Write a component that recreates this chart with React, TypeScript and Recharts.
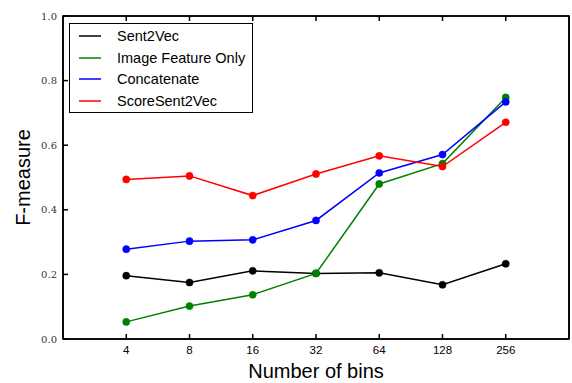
import { LineChart, Line, XAxis, YAxis, Legend, ReferenceArea } from "recharts";

const bins = ["4", "8", "16", "32", "64", "128", "256"];
const sent2vec = [0.196, 0.175, 0.211, 0.203, 0.205, 0.168, 0.233];
const imageOnly = [0.053, 0.102, 0.137, 0.203, 0.48, 0.543, 0.748];
const concatenate = [0.278, 0.303, 0.307, 0.367, 0.514, 0.571, 0.734];
const scoreSent2Vec = [0.494, 0.505, 0.444, 0.511, 0.567, 0.534, 0.671];
const yTicks = [0, 0.2, 0.4, 0.6, 0.8, 1.0];

const series = [
	{ key: "sent2vec", name: "Sent2Vec", color: "#000000", values: sent2vec },
	{ key: "image", name: "Image Feature Only", color: "#008000", values: imageOnly },
	{ key: "concat", name: "Concatenate", color: "#0000ff", values: concatenate },
	{ key: "score", name: "ScoreSent2Vec", color: "#ff0000", values: scoreSent2Vec },
];

const data = bins.map((b, i) => {
	const row: Record<string, number | string> = { i, bin: b };
	series.forEach((s) => {
		row[s.key] = s.values[i];
	});
	return row;
});

const xTicks = bins.map((_, i) => i);
const sans = "'Liberation Sans', Arial, sans-serif";
const TICK = 5;

// inward tick marks, drawn by hand
const BottomTick = (p: any) => (
	<g>
		<rect x={p.x - 0.75} y={p.y - TICK} width={1.5} height={TICK} fill="#000" />
		<text x={p.x} y={p.y + 15} textAnchor="middle" fill="#000" fontSize={11.5} fontFamily={sans}>
			{bins[p.payload.value]}
		</text>
	</g>
);
const TopTick = (p: any) => <rect x={p.x - 0.75} y={p.y} width={1.5} height={TICK} fill="#000" />;
const LeftTick = (p: any) => (
	<g>
		<rect x={p.x} y={p.y - 0.75} width={TICK} height={1.5} fill="#000" />
		<text x={p.x - 6} y={p.y + 3.5} textAnchor="end" fill="#333" fontSize={10} fontFamily="'DejaVu Serif', serif">
			{Number(p.payload.value).toFixed(1)}
		</text>
	</g>
);
const RightTick = (p: any) => <rect x={p.x - TICK} y={p.y - 0.75} width={TICK} height={1.5} fill="#000" />;

const LegendBox = () => (
	<div
		style={{
			border: "1.5px solid #000",
			background: "#fff",
			width: 182,
			height: 87,
			boxSizing: "content-box",
			fontFamily: sans,
			fontSize: 14.5,
			paddingTop: 1,
		}}
	>
		{series.map((s) => (
			<div key={s.key} style={{ display: "flex", alignItems: "center", height: 21.7 }}>
				<svg width={22} height={4} style={{ marginLeft: 9, marginRight: 16 }}>
					<line x1={0} x2={22} y1={2} y2={2} stroke={s.color} strokeWidth={1.5} />
				</svg>
				<span style={{ color: "#000" }}>{s.name}</span>
			</div>
		))}
	</div>
);

const axisLine = { stroke: "#000", strokeWidth: 1.6 };

export default function App() {
	return (
		<div style={{ position: "absolute", left: 0, top: 0, background: "#fff" }}>
			<LineChart width={572} height={383} data={data} margin={{ top: 15, right: 2, left: 3, bottom: 0 }}>
				<XAxis
					dataKey="i"
					type="number"
					domain={[-1, 7]}
					ticks={xTicks}
					allowDataOverflow
					height={44}
					tickSize={0}
					tickMargin={0}
					tick={<BottomTick />}
					axisLine={axisLine}
					tickLine={false}
					label={{ value: "Number of bins", position: "insideBottom", offset: 5, fill: "#000", fontSize: 20, fontFamily: sans }}
				/>
				<XAxis
					xAxisId="top"
					orientation="top"
					dataKey="i"
					type="number"
					domain={[-1, 7]}
					ticks={xTicks}
					allowDataOverflow
					height={1}
					tickSize={0}
					tickMargin={0}
					tick={<TopTick />}
					axisLine={axisLine}
					tickLine={false}
				/>
				<YAxis
					type="number"
					domain={[0, 1]}
					ticks={yTicks}
					width={60}
					tickSize={0}
					tickMargin={0}
					tick={<LeftTick />}
					axisLine={axisLine}
					tickLine={false}
					label={{
						value: "F-measure",
						angle: -90,
						position: "insideLeft",
						offset: 20,
						fill: "#000",
						fontSize: 20,
						fontFamily: sans,
						style: { textAnchor: "middle" },
					}}
				/>
				<YAxis
					yAxisId="right"
					orientation="right"
					type="number"
					domain={[0, 1]}
					ticks={yTicks}
					width={1}
					tickSize={0}
					tickMargin={0}
					tick={<RightTick />}
					axisLine={axisLine}
					tickLine={false}
				/>
				<ReferenceArea
					x1={-1}
					x2={7}
					y1={0}
					y2={1}
					fill="none"
					fillOpacity={0}
					stroke="#000"
					strokeWidth={1.6}
					strokeOpacity={1}
					ifOverflow="visible"
				/>
				<Legend
					layout="vertical"
					align="center"
					verticalAlign="middle"
					wrapperStyle={{ left: 69, top: 23, width: 184 }}
					content={() => <LegendBox />}
				/>
				{series.map((s) => (
					<Line
						key={s.key}
						dataKey={s.key}
						name={s.name}
						stroke={s.color}
						strokeWidth={1.5}
						dot={{ r: 3.6, fill: s.color, stroke: s.color, strokeWidth: 0.5 }}
						isAnimationActive={false}
					/>
				))}
			</LineChart>
		</div>
	);
}
